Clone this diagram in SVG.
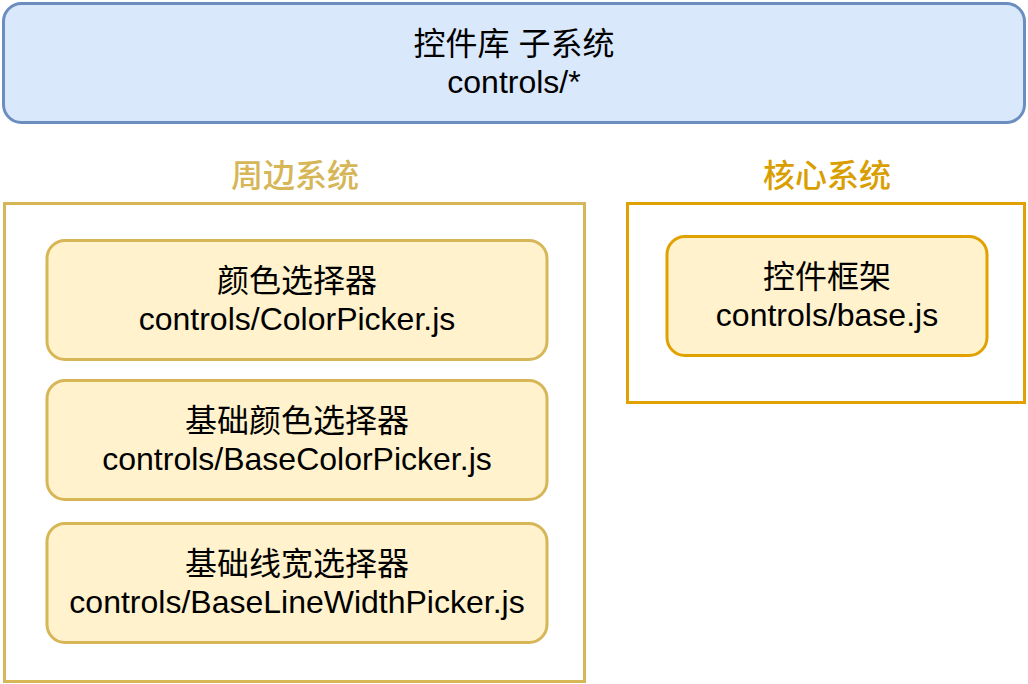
<svg xmlns="http://www.w3.org/2000/svg" width="1028" height="684" viewBox="0 0 1028 684">
<style>
text{font-family:"Liberation Sans","Noto Sans CJK SC",sans-serif;font-size:32px;text-anchor:middle;fill:#000}
.blue{fill:#dae8fc;stroke:#6c8ebf;stroke-width:3}
.node{fill:#fff2cc;stroke:#d6b656;stroke-width:3}
.node2{fill:#fff2cc;stroke:#e1a100;stroke-width:3}
.lab1{fill:#d6b656;font-weight:500}
.lab2{fill:#d99e00;font-weight:500}
</style>
<rect width="1028" height="684" fill="#fff"/>
<g id="subsystem">
<rect class="blue" x="3.5" y="3.5" width="1021" height="119" rx="18"/>
<text x="514" y="55">控件库 子系统</text>
<text x="514" y="93">controls/*</text>
</g>
<g id="peripheral">
<text class="lab1" x="295" y="187">周边系统</text>
<rect x="4.5" y="203.5" width="580" height="478" fill="none" stroke="#d6b656" stroke-width="3"/>
</g>
<g id="core">
<text class="lab2" x="827" y="187">核心系统</text>
<rect x="627.5" y="203.5" width="397" height="199" fill="none" stroke="#e1a100" stroke-width="3"/>
</g>
<g id="colorpicker">
<rect class="node" x="47" y="240.5" width="500" height="119" rx="18"/>
<text x="297" y="292">颜色选择器</text>
<text x="297" y="330">controls/ColorPicker.js</text>
</g>
<g id="basecolorpicker">
<rect class="node" x="47" y="380.5" width="500" height="119" rx="18"/>
<text x="297" y="432">基础颜色选择器</text>
<text x="297" y="470">controls/BaseColorPicker.js</text>
</g>
<g id="baselinewidthpicker">
<rect class="node" x="47" y="523.5" width="500" height="119" rx="18"/>
<text x="297" y="575">基础线宽选择器</text>
<text x="297" y="613">controls/BaseLineWidthPicker.js</text>
</g>
<g id="base">
<rect class="node2" x="667" y="236.5" width="320" height="119" rx="18"/>
<text x="827" y="288">控件框架</text>
<text x="827" y="326">controls/base.js</text>
</g>
<g id="connectors"></g>
</svg>
